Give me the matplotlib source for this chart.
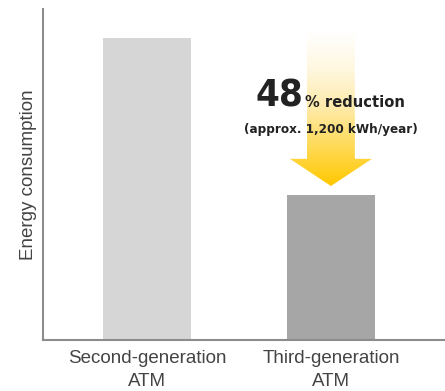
import matplotlib
matplotlib.use("Agg")
import matplotlib.pyplot as plt
import numpy as np
from matplotlib.patches import Polygon
from matplotlib.colors import LinearSegmentedColormap

# dados do gráfico
categorias = ["Second-generation\nATM", "Third-generation\nATM"]
consumo = [100, 48]
cores = ["#d6d6d6", "#a7a6a7"]
reducao_txt = "48"

fonte = ["Liberation Sans", "DejaVu Sans"]

fig = plt.figure(figsize=(4.45, 3.91), dpi=100)
ax = fig.add_axes([0.0966, 0.1304, 0.9034, 0.8465])

x = np.arange(len(categorias))
ax.bar(x, consumo, width=0.478, color=cores, zorder=2)

ax.set_xlim(-0.565, 1.62)
ax.set_ylim(0, 109.6)
ax.set_xticks(x)
ax.set_xticklabels(categorias, fontsize=13.5, color="#444444", family=fonte, linespacing=1.45)
ax.set_yticks([])
ax.tick_params(axis="x", length=0, pad=7)
ax.set_ylabel("Energy consumption", fontsize=13.5, color="#444444", family=fonte, labelpad=4)

for lado in ["top", "right"]:
    ax.spines[lado].set_visible(False)
for lado in ["left", "bottom"]:
    ax.spines[lado].set_color("#8c8c8c")
    ax.spines[lado].set_linewidth(1.5)

# seta com gradiente (branco -> amarelo)
xc = x[1]
meia_haste = 0.13
meia_cabeca = 0.223
y_topo, y_base, y_ponta = 102, 60, 51
pontos = [(xc - meia_haste, y_topo), (xc + meia_haste, y_topo), (xc + meia_haste, y_base),
          (xc + meia_cabeca, y_base), (xc, y_ponta), (xc - meia_cabeca, y_base),
          (xc - meia_haste, y_base)]
seta = Polygon(pontos, closed=True, facecolor="none", edgecolor="none")
ax.add_patch(seta)
cmap = LinearSegmentedColormap.from_list(
    "amarelo", ["#ffffff", "#fff7df", "#feeaa8", "#ffda55", "#ffc800"])
grad = np.linspace(0, 1, 256).reshape(-1, 1)
img = ax.imshow(grad, cmap=cmap, aspect="auto", origin="upper",
                extent=[xc - meia_cabeca, xc + meia_cabeca, y_ponta, y_topo], zorder=3)
img.set_clip_path(seta)

# textos da redução
cond = dict(family="DejaVu Sans", stretch="condensed", color="#222222", zorder=4)
ax.text(0.85, 77.2, reducao_txt, fontsize=27.5, ha="right", va="baseline", weight="bold", **cond)
ax.text(0.857, 77.2, "% reduction", fontsize=11.8, ha="left", va="baseline", weight="bold", **cond)
ax.text(xc, 68.5, "(approx. 1,200 kWh/year)", fontsize=9.6, ha="center", va="baseline",
        weight="bold", **cond)

fig.savefig("out.png", dpi=100)
